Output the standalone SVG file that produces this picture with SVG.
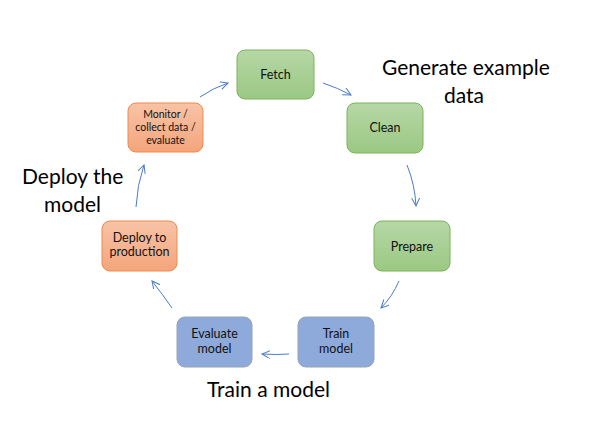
<svg xmlns="http://www.w3.org/2000/svg" width="602" height="437" viewBox="0 0 602 437">
<style>
.g{fill:url(#gg);stroke:#7cb35a;stroke-width:1}
.o{fill:url(#go);stroke:#ef8a4c;stroke-width:1}
.b{fill:#8eaadb;stroke:#9aa3b4;stroke-width:1}
.t{font-family:Lato,"Open Sans",sans-serif;font-size:12.5px;fill:#111;text-anchor:middle}
.s{font-size:10.5px}
.big{font-family:Lato,"Open Sans",sans-serif;font-size:21px;fill:#000}
.c{fill:none;stroke:#4a7cc9;stroke-width:1;marker-end:url(#ah)}
</style>
<defs>
<linearGradient id="gg" x1="0" y1="0" x2="0" y2="1"><stop offset="0" stop-color="#b6d7a6"/><stop offset="1" stop-color="#9bc883"/></linearGradient>
<linearGradient id="go" x1="0" y1="0" x2="0" y2="1"><stop offset="0" stop-color="#f8c3a6"/><stop offset="1" stop-color="#f4a57c"/></linearGradient>
<marker id="ah" markerWidth="10" markerHeight="10" refX="8" refY="4" orient="auto" markerUnits="userSpaceOnUse"><path d="M0,0 L8,4 L0,8" fill="none" stroke="#4a7cc9" stroke-width="1"/></marker>
</defs>
<rect width="602" height="437" fill="#fff"/>
<g id="fetch"><rect class="g" x="237" y="50" width="77" height="49" rx="8"/><text class="t" x="275.5" y="79">Fetch</text></g>
<g id="clean"><rect class="g" x="347" y="103" width="76" height="50" rx="8"/><text class="t" x="385" y="132">Clean</text></g>
<g id="prepare"><rect class="g" x="374" y="221" width="76" height="50" rx="8"/><text class="t" x="412" y="250.5">Prepare</text></g>
<g id="train"><rect class="b" x="298" y="317" width="76" height="50" rx="8"/><text class="t" x="336" y="337.5">Train</text><text class="t" x="336" y="352.5">model</text></g>
<g id="evaluate"><rect class="b" x="177" y="317" width="75" height="50" rx="8"/><text class="t" x="214.5" y="337.5">Evaluate</text><text class="t" x="214.5" y="352.5">model</text></g>
<g id="deploy"><rect class="o" x="102" y="221" width="75" height="50" rx="8"/><text class="t" x="139.5" y="242">Deploy to</text><text class="t" x="139.5" y="256">production</text></g>
<g id="monitor"><rect class="o" x="128" y="103" width="75" height="49" rx="8"/><text class="t s" x="165.5" y="117.5">Monitor /</text><text class="t s" x="165.5" y="130.5">collect data /</text><text class="t s" x="165.5" y="143.5">evaluate</text></g>
<g id="connectors">
<path class="c" d="M200,97 Q213,88 228,83"/>
<path class="c" d="M323,83 Q338,88 351,95"/>
<path class="c" d="M407,165 Q415,185 416,206"/>
<path class="c" d="M399,281 Q392,297 381,308"/>
<path class="c" d="M289,354 Q276,355 262,354"/>
<path class="c" d="M172,308 Q163,295 152,281"/>
<path class="c" d="M136,207 Q137,185 144,165"/>
</g>
<g id="labels">
<text class="big" x="382" y="75">Generate example</text>
<text class="big" x="444" y="103">data</text>
<text class="big" x="22" y="184">Deploy the</text>
<text class="big" x="44" y="212">model</text>
<text class="big" x="207" y="397">Train a model</text>
</g>
</svg>
